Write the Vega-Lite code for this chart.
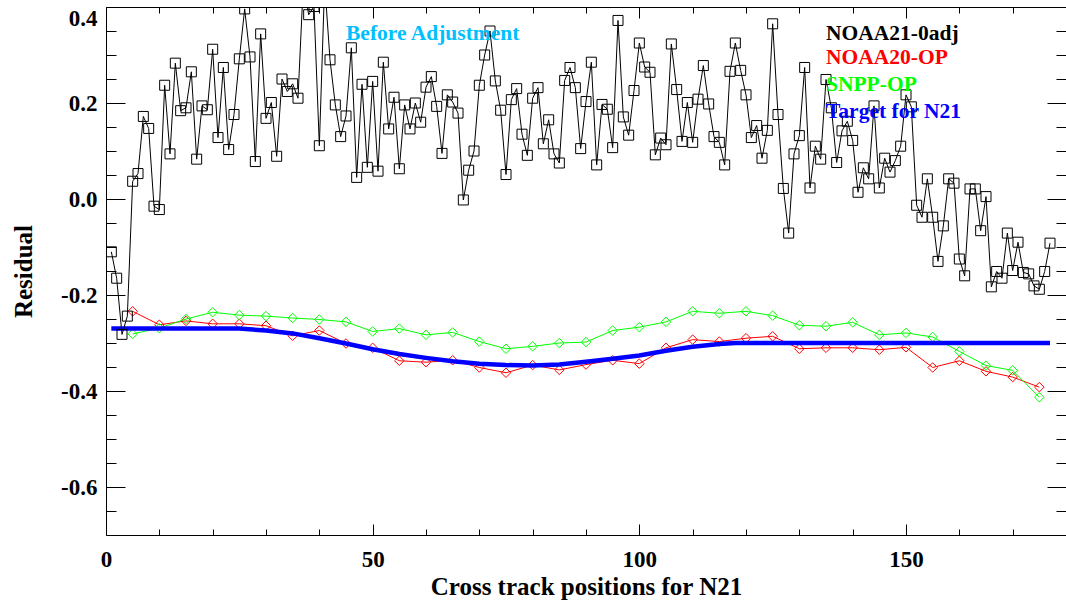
{
  "$schema": "https://vega.github.io/schema/vega-lite/v6.json",
  "width": 960,
  "height": 528,
  "autosize": {"type": "none"},
  "padding": {"left": 106, "top": 7, "right": 0, "bottom": 67},
  "background": "white",
  "config": {
    "view": {"stroke": "black", "strokeWidth": 1},
    "axis": {
      "domain": false,
      "grid": false,
      "labelFont": "Liberation Serif",
      "labelFontWeight": "bold",
      "labelFontSize": 23,
      "labelColor": "black",
      "titleFont": "Liberation Serif",
      "titleFontWeight": "bold",
      "titleFontSize": 25,
      "titleColor": "black",
      "tickColor": "black",
      "tickWidth": 1
    }
  },
  "resolve": {"axis": {"x": "independent", "y": "independent"}},
  "datasets": {
    "n21": [
      {"pos": 1, "res": -0.110}, {"pos": 2, "res": -0.165}, {"pos": 3, "res": -0.282}, {"pos": 4, "res": -0.244},
      {"pos": 5, "res": 0.037}, {"pos": 6, "res": 0.053}, {"pos": 7, "res": 0.172}, {"pos": 8, "res": 0.147},
      {"pos": 9, "res": -0.015}, {"pos": 10, "res": -0.022}, {"pos": 11, "res": 0.237}, {"pos": 12, "res": 0.094},
      {"pos": 13, "res": 0.283}, {"pos": 14, "res": 0.184}, {"pos": 15, "res": 0.190}, {"pos": 16, "res": 0.265},
      {"pos": 17, "res": 0.083}, {"pos": 18, "res": 0.194}, {"pos": 19, "res": 0.186}, {"pos": 20, "res": 0.312},
      {"pos": 21, "res": 0.128}, {"pos": 22, "res": 0.274}, {"pos": 23, "res": 0.103}, {"pos": 24, "res": 0.176},
      {"pos": 25, "res": 0.292}, {"pos": 26, "res": 0.396}, {"pos": 27, "res": 0.296}, {"pos": 28, "res": 0.078},
      {"pos": 29, "res": 0.344}, {"pos": 30, "res": 0.168}, {"pos": 31, "res": 0.201}, {"pos": 32, "res": 0.089},
      {"pos": 33, "res": 0.250}, {"pos": 34, "res": 0.224}, {"pos": 35, "res": 0.240}, {"pos": 36, "res": 0.210},
      {"pos": 37, "res": 0.450}, {"pos": 38, "res": 0.384}, {"pos": 39, "res": 0.401}, {"pos": 40, "res": 0.111},
      {"pos": 41, "res": 0.450}, {"pos": 42, "res": 0.290}, {"pos": 43, "res": 0.196}, {"pos": 44, "res": 0.130},
      {"pos": 45, "res": 0.173}, {"pos": 46, "res": 0.315}, {"pos": 47, "res": 0.045}, {"pos": 48, "res": 0.239},
      {"pos": 49, "res": 0.066}, {"pos": 50, "res": 0.245}, {"pos": 51, "res": 0.058}, {"pos": 52, "res": 0.285},
      {"pos": 53, "res": 0.146}, {"pos": 54, "res": 0.212}, {"pos": 55, "res": 0.063}, {"pos": 56, "res": 0.196},
      {"pos": 57, "res": 0.146}, {"pos": 58, "res": 0.200}, {"pos": 59, "res": 0.160}, {"pos": 60, "res": 0.233},
      {"pos": 61, "res": 0.255}, {"pos": 62, "res": 0.193}, {"pos": 63, "res": 0.095}, {"pos": 64, "res": 0.217},
      {"pos": 65, "res": 0.202}, {"pos": 66, "res": 0.179}, {"pos": 67, "res": -0.002}, {"pos": 68, "res": 0.060},
      {"pos": 69, "res": 0.100}, {"pos": 70, "res": 0.237}, {"pos": 71, "res": 0.300}, {"pos": 72, "res": 0.350},
      {"pos": 73, "res": 0.246}, {"pos": 74, "res": 0.185}, {"pos": 75, "res": 0.051}, {"pos": 76, "res": 0.207},
      {"pos": 77, "res": 0.230}, {"pos": 78, "res": 0.135}, {"pos": 79, "res": 0.091}, {"pos": 80, "res": 0.210},
      {"pos": 81, "res": 0.232}, {"pos": 82, "res": 0.115}, {"pos": 83, "res": 0.165}, {"pos": 84, "res": 0.094},
      {"pos": 85, "res": 0.075}, {"pos": 86, "res": 0.247}, {"pos": 87, "res": 0.274}, {"pos": 88, "res": 0.232},
      {"pos": 89, "res": 0.105}, {"pos": 90, "res": 0.203}, {"pos": 91, "res": 0.285}, {"pos": 92, "res": 0.071},
      {"pos": 93, "res": 0.197}, {"pos": 94, "res": 0.187}, {"pos": 95, "res": 0.107}, {"pos": 96, "res": 0.372},
      {"pos": 97, "res": 0.171}, {"pos": 98, "res": 0.133}, {"pos": 99, "res": 0.226}, {"pos": 100, "res": 0.325},
      {"pos": 101, "res": 0.275}, {"pos": 102, "res": 0.264}, {"pos": 103, "res": 0.092}, {"pos": 104, "res": 0.127},
      {"pos": 105, "res": 0.113}, {"pos": 106, "res": 0.323}, {"pos": 107, "res": 0.228}, {"pos": 108, "res": 0.120},
      {"pos": 109, "res": 0.201}, {"pos": 110, "res": 0.118}, {"pos": 111, "res": 0.208}, {"pos": 112, "res": 0.278},
      {"pos": 113, "res": 0.198}, {"pos": 114, "res": 0.130}, {"pos": 115, "res": 0.118}, {"pos": 116, "res": 0.071},
      {"pos": 117, "res": 0.266}, {"pos": 118, "res": 0.325}, {"pos": 119, "res": 0.268}, {"pos": 120, "res": 0.217},
      {"pos": 121, "res": 0.128}, {"pos": 122, "res": 0.153}, {"pos": 123, "res": 0.085}, {"pos": 124, "res": 0.143},
      {"pos": 125, "res": 0.365}, {"pos": 126, "res": 0.176}, {"pos": 127, "res": 0.022}, {"pos": 128, "res": -0.071},
      {"pos": 129, "res": 0.094}, {"pos": 130, "res": 0.132}, {"pos": 131, "res": 0.274}, {"pos": 132, "res": 0.023},
      {"pos": 133, "res": 0.110}, {"pos": 134, "res": 0.083}, {"pos": 135, "res": 0.249}, {"pos": 136, "res": 0.190},
      {"pos": 137, "res": 0.076}, {"pos": 138, "res": 0.142}, {"pos": 139, "res": 0.162}, {"pos": 140, "res": 0.122},
      {"pos": 141, "res": 0.014}, {"pos": 142, "res": 0.065}, {"pos": 143, "res": 0.042}, {"pos": 144, "res": 0.194},
      {"pos": 145, "res": 0.023}, {"pos": 146, "res": 0.085}, {"pos": 147, "res": 0.056}, {"pos": 148, "res": 0.080},
      {"pos": 149, "res": 0.110}, {"pos": 150, "res": 0.217}, {"pos": 151, "res": 0.192}, {"pos": 152, "res": -0.013},
      {"pos": 153, "res": -0.038}, {"pos": 154, "res": 0.042}, {"pos": 155, "res": -0.038}, {"pos": 156, "res": -0.130},
      {"pos": 157, "res": -0.056}, {"pos": 158, "res": 0.042}, {"pos": 159, "res": 0.033}, {"pos": 160, "res": -0.125},
      {"pos": 161, "res": -0.160}, {"pos": 162, "res": 0.021}, {"pos": 163, "res": 0.021}, {"pos": 164, "res": -0.066},
      {"pos": 165, "res": 0.005}, {"pos": 166, "res": -0.183}, {"pos": 167, "res": -0.151}, {"pos": 168, "res": -0.165},
      {"pos": 169, "res": -0.071}, {"pos": 170, "res": -0.149}, {"pos": 171, "res": -0.090}, {"pos": 172, "res": -0.153},
      {"pos": 173, "res": -0.156}, {"pos": 174, "res": -0.181}, {"pos": 175, "res": -0.188}, {"pos": 176, "res": -0.151},
      {"pos": 177, "res": -0.092}
    ],
    "n20": [
      {"pos": 5, "res": -0.234}, {"pos": 10, "res": -0.262}, {"pos": 15, "res": -0.254}, {"pos": 20, "res": -0.260},
      {"pos": 25, "res": -0.260}, {"pos": 30, "res": -0.264}, {"pos": 35, "res": -0.285}, {"pos": 40, "res": -0.274},
      {"pos": 45, "res": -0.301}, {"pos": 50, "res": -0.310}, {"pos": 55, "res": -0.337}, {"pos": 60, "res": -0.340},
      {"pos": 65, "res": -0.336}, {"pos": 70, "res": -0.351}, {"pos": 75, "res": -0.362}, {"pos": 80, "res": -0.346},
      {"pos": 85, "res": -0.356}, {"pos": 90, "res": -0.345}, {"pos": 95, "res": -0.336}, {"pos": 100, "res": -0.343},
      {"pos": 105, "res": -0.310}, {"pos": 110, "res": -0.293}, {"pos": 115, "res": -0.297}, {"pos": 120, "res": -0.290},
      {"pos": 125, "res": -0.286}, {"pos": 130, "res": -0.312}, {"pos": 135, "res": -0.310}, {"pos": 140, "res": -0.310},
      {"pos": 145, "res": -0.314}, {"pos": 150, "res": -0.309}, {"pos": 155, "res": -0.351}, {"pos": 160, "res": -0.337},
      {"pos": 165, "res": -0.359}, {"pos": 170, "res": -0.371}, {"pos": 175, "res": -0.392}
    ],
    "snpp": [
      {"pos": 5, "res": -0.281}, {"pos": 10, "res": -0.269}, {"pos": 15, "res": -0.250}, {"pos": 20, "res": -0.236},
      {"pos": 25, "res": -0.242}, {"pos": 30, "res": -0.244}, {"pos": 35, "res": -0.248}, {"pos": 40, "res": -0.251},
      {"pos": 45, "res": -0.256}, {"pos": 50, "res": -0.276}, {"pos": 55, "res": -0.270}, {"pos": 60, "res": -0.283},
      {"pos": 65, "res": -0.278}, {"pos": 70, "res": -0.297}, {"pos": 75, "res": -0.312}, {"pos": 80, "res": -0.307},
      {"pos": 85, "res": -0.300}, {"pos": 90, "res": -0.298}, {"pos": 95, "res": -0.274}, {"pos": 100, "res": -0.267},
      {"pos": 105, "res": -0.256}, {"pos": 110, "res": -0.234}, {"pos": 115, "res": -0.238}, {"pos": 120, "res": -0.234},
      {"pos": 125, "res": -0.243}, {"pos": 130, "res": -0.263}, {"pos": 135, "res": -0.265}, {"pos": 140, "res": -0.257},
      {"pos": 145, "res": -0.283}, {"pos": 150, "res": -0.279}, {"pos": 155, "res": -0.2875}, {"pos": 160, "res": -0.3175},
      {"pos": 165, "res": -0.347}, {"pos": 170, "res": -0.357}, {"pos": 175, "res": -0.413}
    ],
    "target": [
      {"pos": 1, "res": -0.270}, {"pos": 10, "res": -0.270}, {"pos": 20, "res": -0.270}, {"pos": 25, "res": -0.270},
      {"pos": 30, "res": -0.274}, {"pos": 35, "res": -0.280}, {"pos": 40, "res": -0.290}, {"pos": 45, "res": -0.301},
      {"pos": 50, "res": -0.313}, {"pos": 55, "res": -0.323}, {"pos": 60, "res": -0.331}, {"pos": 65, "res": -0.338},
      {"pos": 70, "res": -0.343}, {"pos": 75, "res": -0.346}, {"pos": 80, "res": -0.347}, {"pos": 85, "res": -0.345},
      {"pos": 90, "res": -0.339}, {"pos": 95, "res": -0.333}, {"pos": 100, "res": -0.326}, {"pos": 105, "res": -0.316},
      {"pos": 110, "res": -0.308}, {"pos": 115, "res": -0.302}, {"pos": 118, "res": -0.300}, {"pos": 130, "res": -0.300},
      {"pos": 150, "res": -0.300}, {"pos": 177, "res": -0.300}
    ],
    "labels": [
      {"label": "Before Adjustment", "pos": 45, "res": 0.332},
      {"label": "NOAA21-0adj", "pos": 135, "res": 0.332},
      {"label": "NOAA20-OP", "pos": 135, "res": 0.281},
      {"label": "SNPP-OP", "pos": 135, "res": 0.224},
      {"label": "Target for N21", "pos": 135, "res": 0.169}
    ]
  },
  "layer": [
    {
      "data": {"name": "n20"},
      "mark": {"type": "line", "color": "#FF0000", "strokeWidth": 1, "point": {"shape": "diamond", "filled": false, "size": 90, "strokeWidth": 1, "color": "#FF0000"}},
      "encoding": {
        "x": {"field": "pos", "type": "quantitative", "scale": {"domain": [0, 180], "nice": false, "zero": false},
              "axis": {"orient": "top", "values": [0, 50, 100, 150], "tickSize": -11, "labels": false, "title": null}},
        "y": {"field": "res", "type": "quantitative", "scale": {"domain": [-0.7, 0.4], "nice": false, "zero": false},
              "axis": {"orient": "right", "values": [-0.6, -0.4, -0.2, 0, 0.2, 0.4], "tickSize": -19, "labels": false, "title": null}}
      }
    },
    {
      "data": {"name": "snpp"},
      "mark": {"type": "line", "color": "#00FF00", "strokeWidth": 1, "point": {"shape": "diamond", "filled": false, "size": 90, "strokeWidth": 1, "color": "#00FF00"}},
      "encoding": {
        "x": {"field": "pos", "type": "quantitative", "scale": {"domain": [0, 180], "nice": false, "zero": false},
              "axis": {"orient": "top", "values": [10, 20, 30, 40, 60, 70, 80, 90, 110, 120, 130, 140, 160, 170], "tickSize": -6, "labels": false, "title": null}},
        "y": {"field": "res", "type": "quantitative", "scale": {"domain": [-0.7, 0.4], "nice": false, "zero": false},
              "axis": {"orient": "right", "values": [-0.65, -0.55, -0.5, -0.45, -0.35, -0.3, -0.25, -0.15, -0.1, -0.05, 0.05, 0.1, 0.15, 0.25, 0.3, 0.35], "tickSize": -10, "labels": false, "title": null}}
      }
    },
    {
      "data": {"name": "target"},
      "mark": {"type": "line", "color": "#0000FF", "strokeWidth": 4.5},
      "encoding": {
        "x": {"field": "pos", "type": "quantitative", "scale": {"domain": [0, 180], "nice": false, "zero": false},
              "axis": {"orient": "bottom", "values": [10, 20, 30, 40, 60, 70, 80, 90, 110, 120, 130, 140, 160, 170], "tickSize": -6, "labels": false, "title": null}},
        "y": {"field": "res", "type": "quantitative", "scale": {"domain": [-0.7, 0.4], "nice": false, "zero": false},
              "axis": {"orient": "left", "values": [-0.65, -0.55, -0.5, -0.45, -0.35, -0.3, -0.25, -0.15, -0.1, -0.05, 0.05, 0.1, 0.15, 0.25, 0.3, 0.35], "tickSize": -10, "labels": false, "title": null}}
      }
    },
    {
      "data": {"name": "n21"},
      "mark": {"type": "line", "color": "black", "strokeWidth": 1, "clip": true},
      "encoding": {
        "x": {"field": "pos", "type": "quantitative", "scale": {"domain": [0, 180], "nice": false, "zero": false},
              "axis": {"orient": "bottom", "values": [0, 50, 100, 150], "ticks": false, "labelPadding": 13, "labelFlush": false, "format": "d",
                       "title": "Cross track positions for N21", "titlePadding": 3}},
        "y": {"field": "res", "type": "quantitative", "scale": {"domain": [-0.7, 0.4], "nice": false, "zero": false},
              "axis": {"orient": "left", "values": [-0.6, -0.4, -0.2, 0, 0.2, 0.4], "ticks": false, "labelPadding": 9, "labelFlush": true,
                       "labelExpr": "datum.value < 0 ? '-' + format(-datum.value, '.1f') : format(datum.value, '.1f')",
                       "title": "Residual", "titlePadding": 24}}
      }
    },
    {
      "data": {"name": "n21"},
      "mark": {"type": "point", "shape": "square", "filled": false, "size": 100, "color": "black", "strokeWidth": 1, "opacity": 1, "clip": true},
      "encoding": {
        "x": {"field": "pos", "type": "quantitative", "scale": {"domain": [0, 180], "nice": false, "zero": false},
              "axis": {"orient": "bottom", "values": [0, 50, 100, 150], "tickSize": -11, "labels": false, "title": null}},
        "y": {"field": "res", "type": "quantitative", "scale": {"domain": [-0.7, 0.4], "nice": false, "zero": false},
              "axis": {"orient": "left", "values": [-0.6, -0.4, -0.2, 0, 0.2, 0.4], "tickSize": -19, "labels": false, "title": null}}
      }
    },
    {
      "data": {"name": "labels"},
      "mark": {"type": "text", "align": "left", "baseline": "alphabetic", "font": "Liberation Serif", "fontWeight": "bold", "fontSize": 21.5},
      "encoding": {
        "x": {"field": "pos", "type": "quantitative", "scale": {"domain": [0, 180], "nice": false, "zero": false}, "axis": null},
        "y": {"field": "res", "type": "quantitative", "scale": {"domain": [-0.7, 0.4], "nice": false, "zero": false}, "axis": null},
        "text": {"field": "label", "type": "nominal"},
        "color": {"field": "label", "type": "nominal", "legend": null,
                  "scale": {"domain": ["Before Adjustment", "NOAA21-0adj", "NOAA20-OP", "SNPP-OP", "Target for N21"],
                            "range": ["#00BFFF", "#000000", "#FF0000", "#00FF00", "#0000FF"]}}
      }
    }
  ]
}
